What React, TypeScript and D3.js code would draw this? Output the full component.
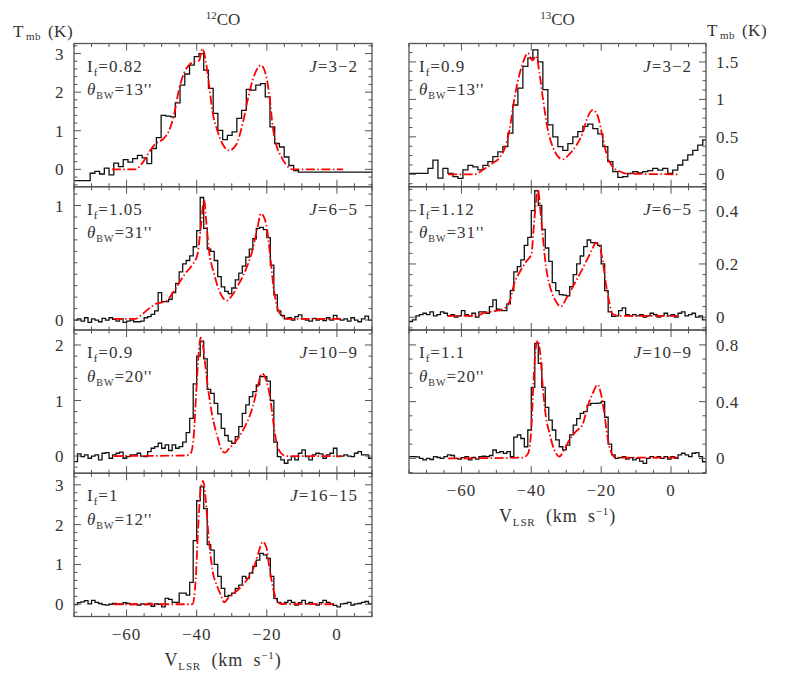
import React from 'react';
import * as d3 from 'd3';

const W = 797;
const H = 678;
const V_MIN = -75;
const V_MAX = 10;
const FONT = "'Liberation Serif', 'DejaVu Serif', serif";
const INK = '#333';

// observed spectra (K), channel width dv starting at v0
const obs12_32 = [
  -0.29, -0.29, -0.29, -0.29, -0.1, -0.05, -0.12, 0.03, -0.14, 0.16,
  0.07, 0.25, 0.19, 0.28, 0.36, 0.3, 0.15, 0.54, 0.82, 1.4,
  1.38, 1.36, 1.72, 2.18, 2.47, 2.7, 2.92, 3.0, 2.57, 2.1,
  1.45, 1.01, 0.77, 0.88, 0.97, 1.32, 1.53, 2.07, 2.05, 2.18,
  2.22, 1.88, 1.1, 0.67, 0.58, 0.32, 0.1, -0.03, -0.07, -0.07,
  -0.07, -0.07, -0.07, -0.07, -0.07, -0.07, -0.07, -0.07, -0.07, -0.07,
  -0.07, -0.07, -0.07, -0.07,
];
const obs12_65 = [
  0.0, 0.01, -0.01, 0.02, -0.02, 0.01, 0.0, -0.015, 0.015, 0.0,
  0.02, 0.005, -0.01, 0.01, -0.02, -0.01, 0.0, -0.015, -0.015, -0.01,
  0.02, 0.03, 0.05, 0.08, 0.24, 0.16, 0.16, 0.18, 0.24, 0.32,
  0.42, 0.49, 0.52, 0.56, 0.64, 0.78, 1.07, 0.8, 0.62, 0.6,
  0.52, 0.38, 0.29, 0.25, 0.23, 0.28, 0.35, 0.41, 0.47, 0.55,
  0.62, 0.71, 0.8, 0.81, 0.79, 0.72, 0.48, 0.22, 0.08, 0.04,
  0.01, 0.02, 0.0, 0.03, 0.045, 0.01, 0.0, -0.01, 0.015, 0.0,
  0.01, -0.005, 0.02, 0.0, 0.04, 0.01, 0.0, 0.01, -0.01, 0.02,
  0.0, -0.015, 0.01, 0.035, 0.0,
];
const obs12_109 = [
  -0.1, 0.04, -0.01, 0.02, -0.04, 0.0, 0.02, -0.07, 0.05, 0.06,
  -0.04, 0.02, 0.05, 0.07, -0.04, -0.01, 0.02, 0.02, 0.05, 0.0,
  -0.01, 0.08, 0.14, 0.17, 0.23, 0.14, 0.2, 0.1, 0.2, 0.14,
  0.17, 0.25, 0.42, 0.68, 1.3, 1.8, 2.07, 1.75, 1.2, 1.13,
  0.95, 0.76, 0.5, 0.37, 0.27, 0.23, 0.35, 0.53, 0.77, 0.92,
  1.07, 1.16, 1.28, 1.43, 1.43, 1.35, 1.0, 0.25, -0.01, -0.07,
  -0.13, -0.07, -0.01, -0.07, 0.05, 0.11, -0.01, -0.07, 0.02, 0.05,
  0.04, -0.04, 0.02, 0.05, 0.14, -0.01, 0.0, 0.02, 0.0, -0.01,
  0.05, 0.08, 0.02, 0.02, -0.04,
];
const obs12_1615 = [
  -0.01, 0.04, 0.06, 0.09, 0.01, 0.1, 0.05, 0.02, -0.01, -0.02,
  0.0, 0.02, 0.008, 0.0, 0.04, 0.02, -0.008, 0.0, -0.018, 0.01,
  -0.008, 0.02, -0.05, 0.008, 0.0, -0.067, 0.15, 0.125, 0.05, 0.05,
  0.28, 0.28, 0.23, 0.55, 1.6, 2.6, 2.95, 2.4, 1.5, 1.36,
  1.0, 0.7, 0.4, 0.2, 0.22, 0.28, 0.4, 0.48, 0.7, 0.65,
  0.78, 0.95, 1.11, 1.28, 1.24, 1.15, 0.7, 0.15, 0.05, 0.008,
  0.05, 0.1, 0.05, -0.018, 0.04, 0.1, 0.008, 0.05, 0.0, -0.02,
  0.04, 0.1, 0.05, 0.008, -0.03, -0.067, 0.008, 0.02, 0.05, -0.018,
  0.008, 0.02, 0.05, 0.07, 0.008,
];
const obs13_32 = [
  0.013, 0.013, 0.013, 0.013, 0.08, 0.19, -0.05, 0.08, 0.013, -0.03,
  -0.053, 0.06, 0.12, 0.1, 0.06, 0.12, 0.17, 0.235, 0.3, 0.37,
  0.55, 0.925, 1.15, 1.44, 1.55, 1.66, 1.5, 1.13, 0.66, 0.5,
  0.37, 0.32, 0.41, 0.5, 0.57, 0.64, 0.67, 0.61, 0.54, 0.37,
  0.17, 0.035, -0.04, -0.03, 0.013, 0.035, 0.02, 0.035, 0.05, 0.08,
  0.057, 0.08, 0.013, 0.057, 0.124, 0.19, 0.26, 0.32, 0.39, 0.46,
];
const obs13_65 = [
  -0.016, -0.01, 0.005, 0.01, 0.015, 0.01, 0.02, 0.005, 0.01, 0.02,
  0.015, 0.005, 0.01, 0.0, 0.005, 0.025, 0.01, 0.005, 0.015, 0.0,
  0.02, 0.02, 0.015, 0.04, 0.065, 0.03, 0.025, 0.025, 0.05, 0.1,
  0.17, 0.19, 0.215, 0.27, 0.3, 0.4, 0.475, 0.42, 0.33, 0.26,
  0.21, 0.13, 0.1, 0.085, 0.083, 0.08, 0.115, 0.16, 0.2, 0.23,
  0.265, 0.29, 0.28, 0.278, 0.27, 0.2, 0.1, 0.02, 0.003, 0.005,
  0.025, 0.035, 0.01, 0.005, 0.01, 0.005, 0.01, 0.0, 0.005, 0.015,
  0.01, 0.0, 0.005, 0.015, 0.005, 0.01, 0.0, 0.015, 0.02, 0.005,
  0.01, 0.015, 0.0, 0.005, -0.01,
];
const obs13_109 = [
  0.012, 0.012, 0.01, 0.0, -0.01, 0.0, -0.008, 0.012, 0.006, 0.0,
  0.012, 0.024, 0.02, 0.0, -0.005, 0.005, 0.012, -0.01, 0.006, -0.005,
  0.012, 0.015, 0.012, 0.02, 0.059, 0.04, 0.047, 0.035, 0.047, 0.012,
  0.15, 0.165, 0.14, 0.082, 0.2, 0.5, 0.81, 0.67, 0.5, 0.36,
  0.27, 0.2, 0.13, 0.082, 0.06, 0.094, 0.165, 0.235, 0.28, 0.317,
  0.33, 0.376, 0.388, 0.388, 0.39, 0.4, 0.29, 0.1, 0.024, 0.0,
  0.005, 0.012, -0.005, 0.005, -0.011, 0.0, -0.02, -0.035, 0.0, 0.012,
  0.005, 0.012, 0.0, 0.012, -0.005, 0.012, 0.0, 0.024, 0.036, 0.024,
  0.012, 0.036, 0.04, 0.012, -0.024,
];

// model fits: [velocity, T]
const mod12_32 = [
  [-64.2, 0], [-57.5, 0], [-55.6, 0.15], [-53.2, 0.5], [-51.7, 0.67], [-49.9, 0.76],
  [-47.9, 1.0], [-46.5, 1.4], [-45.1, 2.05], [-43.6, 2.5], [-42.2, 2.7], [-40.3, 2.8],
  [-39.3, 2.82], [-38.4, 3.13], [-37.4, 2.8], [-36.5, 2.2], [-35.5, 1.5], [-34.1, 1.0],
  [-32.7, 0.67], [-30.7, 0.49], [-28.8, 0.63], [-26.9, 1.18], [-25.5, 1.78], [-24.1, 2.3],
  [-22.6, 2.62], [-21.7, 2.7], [-20.2, 2.42], [-19.1, 1.78], [-18.3, 1.1], [-17.4, 0.67],
  [-15.9, 0.33], [-14.5, 0.12], [-12.6, 0], [1.7, 0],
];
const mod12_65 = [
  [-63.7, 0.01], [-57.5, 0.01], [-55.6, 0.05], [-53.2, 0.11], [-51.8, 0.14], [-49.9, 0.155],
  [-48.4, 0.17], [-47.0, 0.23], [-45.1, 0.32], [-43.2, 0.41], [-41.3, 0.48], [-39.8, 0.57],
  [-38.9, 0.79], [-37.9, 1.05], [-37.3, 0.87], [-36.5, 0.61], [-35.1, 0.41], [-33.6, 0.26],
  [-31.4, 0.17], [-29.8, 0.22], [-27.9, 0.32], [-26.0, 0.44], [-24.1, 0.61], [-22.6, 0.815],
  [-21.7, 0.93], [-20.2, 0.84], [-19.1, 0.58], [-18.1, 0.29], [-16.9, 0.1], [-15.5, 0.03],
  [-13.6, 0.01], [1.7, 0.01],
];
const mod12_109 = [
  [-63.7, 0], [-43.1, 0.01], [-41.7, 0.05], [-40.8, 0.4], [-40.1, 1.19], [-39.5, 1.8],
  [-38.9, 2.13], [-38.2, 1.98], [-37.5, 1.6], [-36.7, 1.19], [-35.5, 0.71], [-34.1, 0.35],
  [-32.9, 0.11], [-31.9, 0.06], [-30.7, 0.14], [-29.3, 0.23], [-27.9, 0.35], [-26.0, 0.56],
  [-24.0, 0.89], [-22.6, 1.25], [-21.4, 1.49], [-20.2, 1.37], [-19.1, 1.07], [-18.1, 0.59],
  [-17.2, 0.23], [-15.9, 0.05], [-14.5, 0], [1.2, 0],
];
const mod12_1615 = [
  [-63.7, 0], [-41.2, 0], [-40.3, 0.61], [-39.5, 2.07], [-38.9, 2.87], [-38.2, 3.1],
  [-37.5, 2.7], [-36.6, 1.7], [-35.5, 0.86], [-34.1, 0.44], [-33.1, 0.23], [-32.2, 0.05],
  [-30.7, 0.19], [-28.8, 0.32], [-26.9, 0.48], [-25.0, 0.7], [-23.6, 0.95], [-22.3, 1.32],
  [-21.2, 1.57], [-20.2, 1.45], [-19.3, 0.95], [-18.3, 0.44], [-17.4, 0.15], [-16.0, 0.01],
  [-0.2, 0],
];
const mod13_32 = [
  [-63.8, 0], [-56.2, 0], [-53.8, 0.06], [-51.0, 0.15], [-49.1, 0.22], [-47.6, 0.35],
  [-46.2, 0.6], [-44.8, 1.02], [-43.3, 1.35], [-41.9, 1.55], [-41.0, 1.62], [-39.7, 1.52],
  [-38.6, 1.58], [-37.6, 1.33], [-36.7, 1.02], [-35.3, 0.6], [-33.8, 0.36], [-32.4, 0.24],
  [-31.0, 0.2], [-29.1, 0.27], [-27.2, 0.38], [-25.3, 0.55], [-23.9, 0.76], [-22.4, 0.86],
  [-21.0, 0.78], [-19.6, 0.5], [-18.2, 0.23], [-16.7, 0.1], [-14.8, 0.04], [-12.9, 0.01],
  [1.9, 0],
];
const mod13_65 = [
  [-63.8, 0.005], [-55.7, 0.005], [-53.8, 0.015], [-51.0, 0.022], [-48.1, 0.03], [-46.2, 0.06],
  [-44.8, 0.13], [-43.3, 0.17], [-41.4, 0.21], [-40.0, 0.235], [-39.1, 0.37], [-38.1, 0.48],
  [-37.2, 0.37], [-35.8, 0.19], [-34.3, 0.1], [-32.9, 0.058], [-31.5, 0.04], [-30.0, 0.07],
  [-28.1, 0.115], [-25.8, 0.17], [-23.9, 0.22], [-22.4, 0.26], [-21.5, 0.28], [-20.6, 0.27],
  [-19.6, 0.215], [-18.7, 0.13], [-17.7, 0.058], [-16.8, 0.013], [-14.9, 0.005], [1.9, 0.005],
];
const mod13_109 = [
  [-63.8, 0], [-42.4, 0.005], [-41.0, 0.03], [-40.0, 0.2], [-39.4, 0.53], [-38.6, 0.8],
  [-38.1, 0.83], [-37.5, 0.75], [-36.7, 0.5], [-35.8, 0.29], [-34.8, 0.18], [-33.9, 0.094],
  [-32.9, 0.035], [-32.0, 0.012], [-30.6, 0.059], [-29.1, 0.13], [-27.2, 0.19], [-25.3, 0.24],
  [-23.9, 0.364], [-22.4, 0.46], [-21.0, 0.52], [-20.1, 0.46], [-19.1, 0.317], [-18.2, 0.153],
  [-17.2, 0.047], [-15.8, 0.005], [1.9, 0.005],
];

const transitions12 = ['3−2', '6−5', '10−9', '16−15'];
const intensity12 = ['0.82', '1.05', '0.9', '1'];
const beams12 = ['13', '31', '20', '12'];
const transitions13 = ['3−2', '6−5', '10−9'];
const intensity13 = ['0.9', '1.12', '1.1'];
const beams13 = ['13', '31', '20'];

const rowEdges = [43.5, 186.75, 330, 473.25, 616.5];

type Panel = {
  obs: number[];
  v0: number;
  dv: number;
  model: number[][];
  yDomain: [number, number];
  major: number;
  minor: number;
};

const panels12: Panel[] = [
  { obs: obs12_32, v0: -75.8, dv: 1.35, model: mod12_32, yDomain: [-0.45, 3.26], major: 1, minor: 0.2 },
  { obs: obs12_65, v0: -75, dv: 1, model: mod12_65, yDomain: [-0.087, 1.164], major: 1, minor: 0.1 },
  { obs: obs12_109, v0: -75, dv: 1, model: mod12_109, yDomain: [-0.31, 2.27], major: 1, minor: 0.2 },
  { obs: obs12_1615, v0: -75, dv: 1, model: mod12_1615, yDomain: [-0.307, 3.29], major: 1, minor: 0.2 },
];
const panels13: Panel[] = [
  { obs: obs13_32, v0: -75.3, dv: 1.43, model: mod13_32, yDomain: [-0.166, 1.746], major: 0.5, minor: 0.125 },
  { obs: obs13_65, v0: -75, dv: 1, model: mod13_65, yDomain: [-0.048, 0.49], major: 0.2, minor: 0.04 },
  { obs: obs13_109, v0: -75, dv: 1, model: mod13_109, yDomain: [-0.105, 0.905], major: 0.4, minor: 0.1 },
];

const isMult = (v: number, step: number) => Math.abs(v / step - Math.round(v / step)) < 1e-6;
const stepTicks = (d0: number, d1: number, step: number) => {
  const out: number[] = [];
  for (let k = Math.ceil(d0 / step - 1e-9); k * step <= d1 + 1e-9; k++) out.push(+(k * step).toFixed(4));
  return out;
};

function Column({ id, panels, x0, x1, side, title, trans, intens, beams }: any) {
  const xs = d3.scaleLinear().domain([V_MIN, V_MAX]).range([x0, x1]);
  const xTicks = stepTicks(V_MIN, V_MAX, 5);
  const bottom = rowEdges[panels.length];
  const cx = (x0 + x1) / 2;
  return (
    <g>
      <text x={cx} y={25} textAnchor="middle" fontFamily={FONT} fill={INK} fontSize={17}>
        <tspan fontSize={11} dy={-6}>{title}</tspan>
        <tspan dy={6}>CO</tspan>
      </text>
      {panels.map((p: Panel, i: number) => {
        const top = rowEdges[i];
        const bot = rowEdges[i + 1];
        const ys = d3.scaleLinear().domain(p.yDomain).range([bot, top]);
        const stepPts = p.obs.map((t, k) => [p.v0 + k * p.dv, t]);
        stepPts.push([p.v0 + p.obs.length * p.dv, p.obs[p.obs.length - 1]]);
        const stepLine = d3.line<number[]>().x((d) => xs(d[0])).y((d) => ys(d[1])).curve(d3.curveStepAfter);
        const modelLine = d3.line<number[]>().x((d) => xs(d[0])).y((d) => ys(d[1])).curve(d3.curveMonotoneX);
        const yTicks = stepTicks(p.yDomain[0], p.yDomain[1], p.minor);
        const clipId = `clip-${id}-${i}`;
        const left = side === 'left';
        return (
          <g key={i}>
            <clipPath id={clipId}>
              <rect x={x0} y={top} width={x1 - x0} height={bot - top} />
            </clipPath>
            <g clipPath={`url(#${clipId})`}>
              <path d={stepLine(stepPts) || ''} fill="none" stroke="#111" strokeWidth={1.3} />
              <path d={modelLine(p.model) || ''} fill="none" stroke="#ff0000" strokeWidth={1.8}
                strokeDasharray="9 2.5 1.5 2.5" />
            </g>
            {/* ticks */}
            {xTicks.map((v) => {
              const len = isMult(v, 20) ? 7 : 3.5;
              return (
                <g key={`x${v}`} stroke="#555" strokeWidth={1}>
                  <line x1={xs(v)} x2={xs(v)} y1={bot} y2={bot - len} />
                  <line x1={xs(v)} x2={xs(v)} y1={top} y2={top + len} />
                </g>
              );
            })}
            {yTicks.map((v) => {
              const len = isMult(v, p.major) ? 7 : 3.5;
              return (
                <g key={`y${v}`} stroke="#555" strokeWidth={1}>
                  <line x1={x0} x2={x0 + len} y1={ys(v)} y2={ys(v)} />
                  <line x1={x1} x2={x1 - len} y1={ys(v)} y2={ys(v)} />
                </g>
              );
            })}
            <rect x={x0} y={top} width={x1 - x0} height={bot - top} fill="none" stroke="#555" strokeWidth={1.3} />
            {yTicks.filter((v) => isMult(v, p.major)).map((v) => (
              <text key={`yl${v}`} x={left ? x0 - 10 : x1 + 10} y={ys(v) + 6}
                textAnchor={left ? 'end' : 'start'} fontFamily={FONT} fontSize={17} fill={INK} letterSpacing={0.5}>
                {String(v)}
              </text>
            ))}
            <text x={x0 + (left ? 13 : 10)} y={top + 28.2} fontFamily={FONT} fontSize={17} fill={INK} letterSpacing={1}>
              I<tspan fontSize={11} dy={4}>f</tspan><tspan dy={-4}>={intens[i]}</tspan>
            </text>
            <text x={x0 + (left ? 13 : 10)} y={top + 51.5} fontFamily={FONT} fontSize={17} fill={INK} letterSpacing={1}>
              <tspan fontStyle="italic">θ</tspan><tspan fontSize={10} dy={4}>BW</tspan><tspan dy={-4}>={beams[i]}''</tspan>
            </text>
            <text x={x1 - 14} y={top + 28.2} textAnchor="end" fontFamily={FONT} fontSize={17} fill={INK} letterSpacing={1}>
              <tspan fontStyle="italic">J</tspan>={trans[i]}
            </text>
          </g>
        );
      })}
      {xTicks.filter((v) => isMult(v, 20)).map((v) => (
        <text key={`xl${v}`} x={xs(v)} y={bottom + 23} textAnchor="middle" fontFamily={FONT}
          fontSize={17} fill={INK} letterSpacing={1}>
          {v < 0 ? `−${Math.abs(v)}` : String(v)}
        </text>
      ))}
      <text x={cx} y={bottom + 49} textAnchor="middle" fontFamily={FONT} fontSize={18} fill={INK} letterSpacing={0.8}>
        V<tspan fontSize={11} dy={4}>LSR</tspan><tspan dy={-4} xmlSpace="preserve">  (km  s</tspan>
        <tspan fontSize={11} dy={-7}>−1</tspan><tspan dy={7}>)</tspan>
      </text>
    </g>
  );
}

function AxisTitle({ x, y }: { x: number; y: number }) {
  return (
    <text x={x} y={y} fontFamily={FONT} fontSize={17} fill={INK} letterSpacing={0.5}>
      T<tspan fontSize={11} dy={3} dx={2}>mb</tspan><tspan dy={-3} dx={7}>(K)</tspan>
    </text>
  );
}

export default function App() {
  return (
    <svg width={W} height={H} style={{ display: 'block', position: 'absolute', left: 0, top: 0, background: '#fff' }}>
      <AxisTitle x={13} y={37} />
      <AxisTitle x={707} y={36} />
      <Column id="c12" panels={panels12} x0={74} x1={372} side="left" title="12"
        trans={transitions12} intens={intensity12} beams={beams12} />
      <Column id="c13" panels={panels13} x0={409} x1={706} side="right" title="13"
        trans={transitions13} intens={intensity13} beams={beams13} />
    </svg>
  );
}
